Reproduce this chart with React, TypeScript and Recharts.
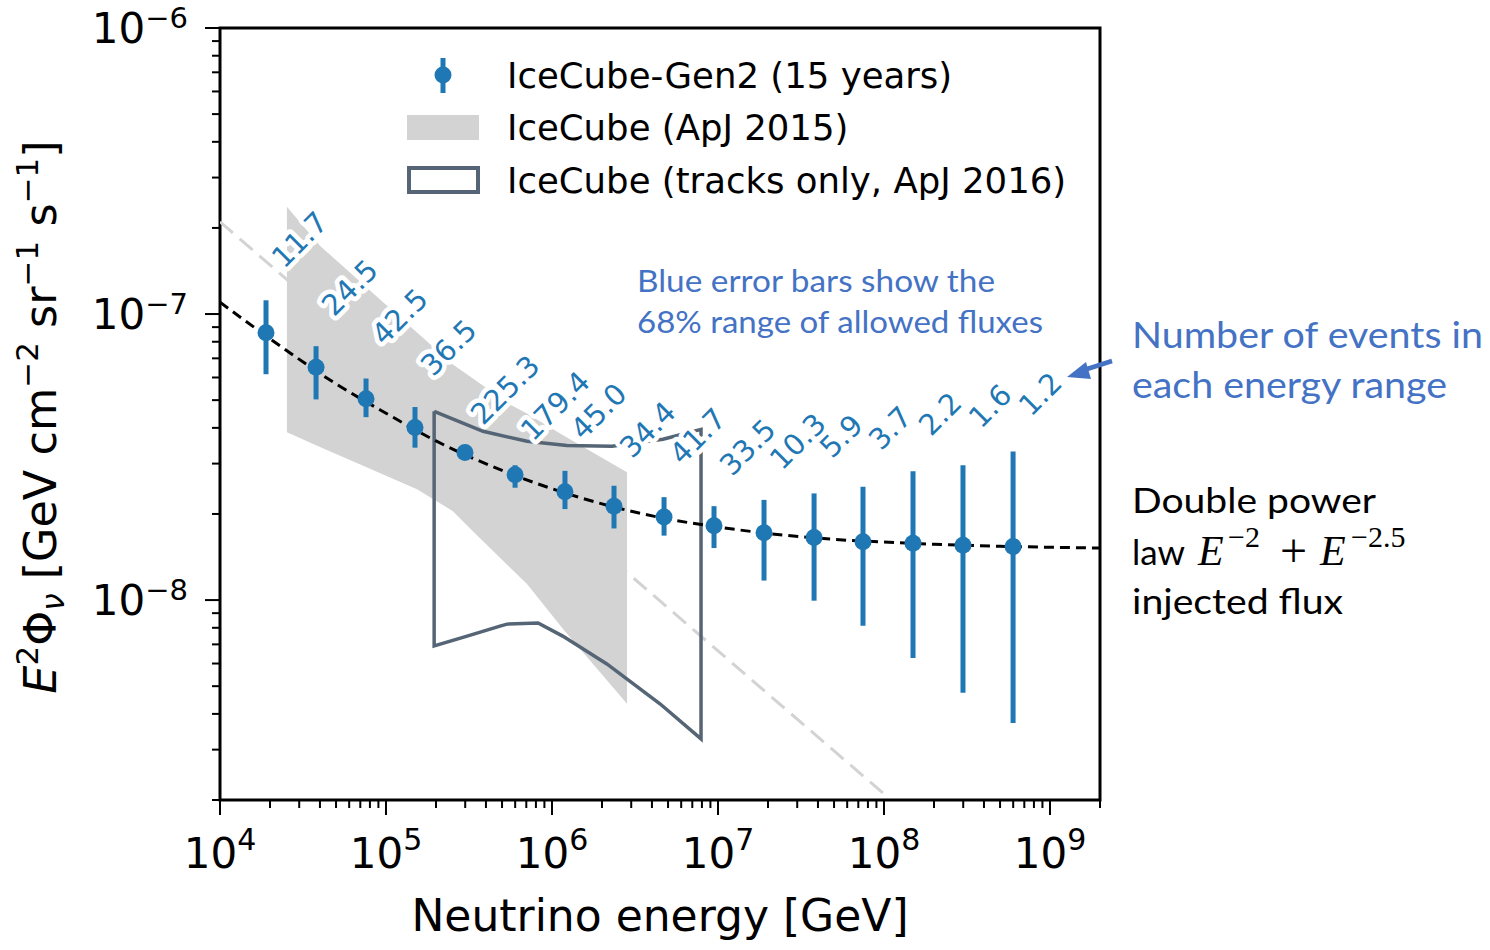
import React from 'react';
import { ComposedChart, XAxis, YAxis, Line, Area, Scatter, ErrorBar, ReferenceArea } from 'recharts';

// ---- IceCube-Gen2 (15 years) projected points ----
const binEnergy = [1.893e4, 3.79e4, 7.58e4, 1.495e5, 2.99e5, 5.99e5, 1.197e6, 2.363e6, 4.73e6, 9.46e6, 1.893e7, 3.79e7, 7.47e7, 1.495e8, 2.99e8, 5.99e8];
const fluxCentral = [8.6e-8, 6.52e-8, 5.06e-8, 4.01e-8, 3.28e-8, 2.74e-8, 2.39e-8, 2.13e-8, 1.95e-8, 1.82e-8, 1.72e-8, 1.655e-8, 1.6e-8, 1.58e-8, 1.556e-8, 1.54e-8];
const fluxLow68 = [6.16e-8, 5.03e-8, 4.36e-8, 3.41e-8, 3.12e-8, 2.47e-8, 2.08e-8, 1.78e-8, 1.68e-8, 1.52e-8, 1.17e-8, 9.95e-9, 8.13e-9, 6.27e-9, 4.74e-9, 3.72e-9];
const fluxHigh68 = [1.117e-7, 7.72e-8, 5.95e-8, 4.73e-8, 3.42e-8, 2.96e-8, 2.83e-8, 2.51e-8, 2.29e-8, 2.13e-8, 2.24e-8, 2.36e-8, 2.49e-8, 2.82e-8, 2.96e-8, 3.31e-8];
const eventCounts = [11.7, 24.5, 42.5, 36.5, 225.3, 179.4, 45.0, 34.4, 41.7, 33.5, 10.3, 5.9, 3.7, 2.2, 1.6, 1.2];
const labelFlux = [1.43e-7, 9.72e-8, 7.7e-8, 6.0e-8, 4.05e-8, 3.56e-8, 3.59e-8, 3.1e-8, 2.94e-8, 2.69e-8, 2.82e-8, 3.1e-8, 3.31e-8, 3.71e-8, 3.95e-8, 4.35e-8];

// ---- Double power law injected flux ----
const modelEnergy = [1e4, 2e4, 5e4, 1e5, 2e5, 5e5, 1e6, 2e6, 5e6, 1e7, 2e7, 5e7, 1e8, 2e8, 5e8, 1e9, 2e9];
const modelFlux = [1.1e-7, 8.2e-8, 5.7e-8, 4.5e-8, 3.6e-8, 2.84e-8, 2.45e-8, 2.17e-8, 1.92e-8, 1.8e-8, 1.71e-8, 1.63e-8, 1.595e-8, 1.567e-8, 1.542e-8, 1.53e-8, 1.52e-8];

// ---- light grey dashed E^-2.5 component ----
const softEnergy = [1e4, 1e8];
const softFlux = [2.1e-7, 2.1e-9];

// ---- IceCube (ApJ 2015) band ----
const bandEnergy = [2.53e4, 4.0e4, 8.01e4, 1.537e5, 2.53e5, 3.21e5, 5.58e5, 7.07e5, 1.165e6, 2.83e6];
const bandUpper = [2.37e-7, 1.734e-7, 1.208e-7, 8.62e-8, 6.66e-8, 6.05e-8, 4.83e-8, 4.49e-8, 3.77e-8, 2.8e-8];
const bandLower = [3.86e-8, 3.43e-8, 2.88e-8, 2.44e-8, 2.045e-8, 1.78e-8, 1.3e-8, 1.137e-8, 7.92e-9, 4.34e-9];

// ---- IceCube (tracks only, ApJ 2016) outline (closed) ----
const tracksEnergy = [1.95e5, 3.84e5, 7.07e5, 1.23e6, 2.3e6, 4.66e6, 6.78e6, 7.9e6, 7.9e6, 4.47e6, 2.14e6, 1.16e6, 8.24e5, 5.36e5, 4.86e5, 3.08e5, 1.95e5, 1.95e5];
const tracksFlux = [4.57e-8, 3.89e-8, 3.59e-8, 3.47e-8, 3.45e-8, 3.65e-8, 3.86e-8, 3.95e-8, 3.27e-9, 4.34e-9, 5.98e-9, 7.48e-9, 8.31e-9, 8.24e-9, 8.11e-9, 7.48e-9, 6.91e-9, 4.57e-8];

// ---- axes ----
const xDomain = [1e4, 2e9];
const yDomain = [2e-9, 1e-6];
const xTicks: number[] = [];
for (let k = 4; k <= 9; k++) for (let m = 1; m <= 9; m++) { const v = m * Math.pow(10, k); if (v <= 2e9 * 1.0001) xTicks.push(v); }
const yTicks: number[] = [];
for (let k = -9; k <= -6; k++) for (let m = 1; m <= 9; m++) { const v = m * Math.pow(10, k); if (v >= 2e-9 * 0.9999 && v <= 1e-6 * 1.0001) yTicks.push(v); }

const BLUE = '#1f77b4';
const TRACK = '#556575';
const BAND = '#d3d3d3';
const NOTE = '#4472c4';
const FONT = 'DejaVu Sans';

const points = binEnergy.map((E, i) => ({ E, F: fluxCentral[i], err: [fluxCentral[i] - fluxLow68[i], fluxHigh68[i] - fluxCentral[i]] }));
const labels = binEnergy.map((E, i) => ({ E, F: labelFlux[i], count: eventCounts[i] }));
const model = modelEnergy.map((E, i) => ({ E, F: modelFlux[i] }));
const soft = softEnergy.map((E, i) => ({ E, F: softFlux[i] }));
const band = bandEnergy.map((E, i) => ({ E, range: [bandLower[i], bandUpper[i]] }));
const tracks = tracksEnergy.map((E, i) => ({ E, F: tracksFlux[i] }));

const isMajor = (v: number) => Math.abs(Math.log10(v) - Math.round(Math.log10(v))) < 1e-6;
const toSup = (n: number) => String(n).replace('-', '\u2212');

const XTick = (props: any) => {
  const { x, y, payload } = props;
  const v = payload.value;
  const major = isMajor(v);
  return (
    <g>
      <line x1={x} y1={y} x2={x} y2={y + (major ? 15 : 8)} stroke="#000" strokeWidth={2} />
      {major && (
        <text x={x} y={y + 68} textAnchor="middle" fontFamily={FONT} fontSize={42} fill="#000">
          <tspan>10</tspan>
          <tspan fontSize={30} dy={-18}>{toSup(Math.round(Math.log10(v)))}</tspan>
        </text>
      )}
    </g>
  );
};

const YTick = (props: any) => {
  const { x, y, payload } = props;
  const v = payload.value;
  const major = isMajor(v);
  return (
    <g>
      <line x1={x} y1={y} x2={x - (major ? 15 : 8)} y2={y} stroke="#000" strokeWidth={2} />
      {major && (
        <text x={x - 32} y={y + 15} textAnchor="end" fontFamily={FONT} fontSize={42} fill="#000">
          <tspan>10</tspan>
          <tspan fontSize={29} dy={-15}>{toSup(Math.round(Math.log10(v)))}</tspan>
        </text>
      )}
    </g>
  );
};

const Dot = (props: any) => {
  const { cx, cy } = props;
  return <circle cx={cx} cy={cy} r={8.5} fill={BLUE} />;
};

const CountLabel = (props: any) => {
  const { cx, cy, payload } = props;
  const ax = cx + 18;
  return (
    <text x={ax} y={cy} transform={`rotate(-45 ${ax} ${cy})`} fontFamily={FONT} fontSize={29} fill={BLUE}
      stroke="#fff" strokeWidth={9} strokeLinejoin="round" paintOrder="stroke">
      {payload.count.toFixed(1)}
    </text>
  );
};

export default function App() {
  return (
    <div style={{ position: 'absolute', left: 0, top: 0, width: 1490, height: 950, background: '#fff' }}>
      <ComposedChart width={1490} height={950} margin={{ top: 28, right: 390, bottom: 90, left: 120 }}>
        <XAxis dataKey="E" type="number" scale="log" domain={xDomain} allowDataOverflow ticks={xTicks} interval={0}
          axisLine={false} tickLine={false} tickSize={0} tickMargin={0} tick={<XTick />} height={60} />
        <YAxis dataKey="F" type="number" scale="log" domain={yDomain} allowDataOverflow ticks={yTicks} interval={0}
          axisLine={false} tickLine={false} tickSize={0} tickMargin={0} tick={<YTick />} width={100} />
        <Area data={band} dataKey="range" type="linear" stroke="none" fill={BAND} fillOpacity={1} isAnimationActive={false} />
        <Line data={soft} dataKey="F" type="linear" stroke={BAND} strokeWidth={3} strokeDasharray="17 9" dot={false} isAnimationActive={false} />
        <Line data={tracks} dataKey="F" type="linear" stroke={TRACK} strokeWidth={3.5} dot={false} isAnimationActive={false} />
        <Line data={model} dataKey="F" type="monotone" stroke="#000" strokeWidth={3} strokeDasharray="10 6" dot={false} isAnimationActive={false} />
        <Scatter data={points} dataKey="F" fill={BLUE} shape={<Dot />} isAnimationActive={false}>
          <ErrorBar dataKey="err" direction="y" width={0} strokeWidth={5} stroke={BLUE} isAnimationActive={false} />
        </Scatter>
        <Scatter data={labels} dataKey="F" shape={<CountLabel />} isAnimationActive={false} />
        <ReferenceArea x1={xDomain[0]} x2={xDomain[1]} y1={yDomain[0]} y2={yDomain[1]} fill="none" fillOpacity={0}
          stroke="#000" strokeWidth={3} ifOverflow="visible" />
      </ComposedChart>
      <svg width={1490} height={950} style={{ position: 'absolute', left: 0, top: 0, pointerEvents: 'none' }}>
        {/* legend */}
        <line x1={443} y1={58} x2={443} y2={93} stroke={BLUE} strokeWidth={5} />
        <circle cx={443} cy={75} r={8.5} fill={BLUE} />
        <rect x={407} y={115} width={72} height={25} fill={BAND} />
        <rect x={409} y={168} width={69} height={24} fill="none" stroke={TRACK} strokeWidth={4} />
        <g fontFamily={FONT} fontSize={35.5} fill="#000">
          <text x={507} y={88}>IceCube-Gen2 (15 years)</text>
          <text x={507} y={140}>IceCube (ApJ 2015)</text>
          <text x={507} y={193}>IceCube (tracks only, ApJ 2016)</text>
        </g>
        {/* axis titles */}
        <text x={660} y={931} textAnchor="middle" fontFamily={FONT} fontSize={44} fill="#000">Neutrino energy [GeV]</text>
        <text x={56} y={417} transform="rotate(-90 56 417)" textAnchor="middle" fontFamily={FONT} fontSize={44.5} fill="#000">
          <tspan fontStyle="italic">E</tspan>
          <tspan fontSize={31} dy={-18}>2</tspan>
          <tspan dy={18}>Φ</tspan>
          <tspan fontSize={31} fontStyle="italic" dy={8}>ν</tspan>
          <tspan dy={-8}> [GeV cm</tspan>
          <tspan fontSize={31} dy={-18}>−2</tspan>
          <tspan dy={18}> sr</tspan>
          <tspan fontSize={31} dy={-18}>−1</tspan>
          <tspan dy={18}> s</tspan>
          <tspan fontSize={31} dy={-18}>−1</tspan>
          <tspan dy={18}>]</tspan>
        </text>
        {/* notes */}
        <g fontFamily="Lato" fill={NOTE}>
          <text x={637} y={292} fontSize={31} textLength={358} lengthAdjust="spacingAndGlyphs">Blue error bars show the</text>
          <text x={637} y={333} fontSize={31} textLength={406} lengthAdjust="spacingAndGlyphs">68% range of allowed fluxes</text>
          <text x={1132} y={348} fontSize={37} textLength={351} lengthAdjust="spacingAndGlyphs">Number of events in</text>
          <text x={1132} y={398} fontSize={37} textLength={315} lengthAdjust="spacingAndGlyphs">each energy range</text>
        </g>
        <line x1={1112} y1={361} x2={1084} y2={370} stroke={NOTE} strokeWidth={4.5} />
        <polygon points="1067,377 1086,362 1091,379" fill={NOTE} />
        <g fontFamily="Lato" fill="#000" fontSize={35}>
          <text x={1132} y={513} textLength={244} lengthAdjust="spacingAndGlyphs">Double power</text>
          <text x={1132} y={565}>law</text>
          <g fontFamily="Liberation Serif">
            <text x={1198} y={565} fontStyle="italic" fontSize={42}>E</text>
            <text x={1228} y={547} fontSize={30}>−2</text>
            <text x={1280} y={567} fontSize={48}>+</text>
            <text x={1320} y={565} fontStyle="italic" fontSize={42}>E</text>
            <text x={1351} y={547} fontSize={30}>−2.5</text>
          </g>
          <text x={1132} y={614} textLength={211} lengthAdjust="spacingAndGlyphs">injected flux</text>
        </g>
      </svg>
    </div>
  );
}
